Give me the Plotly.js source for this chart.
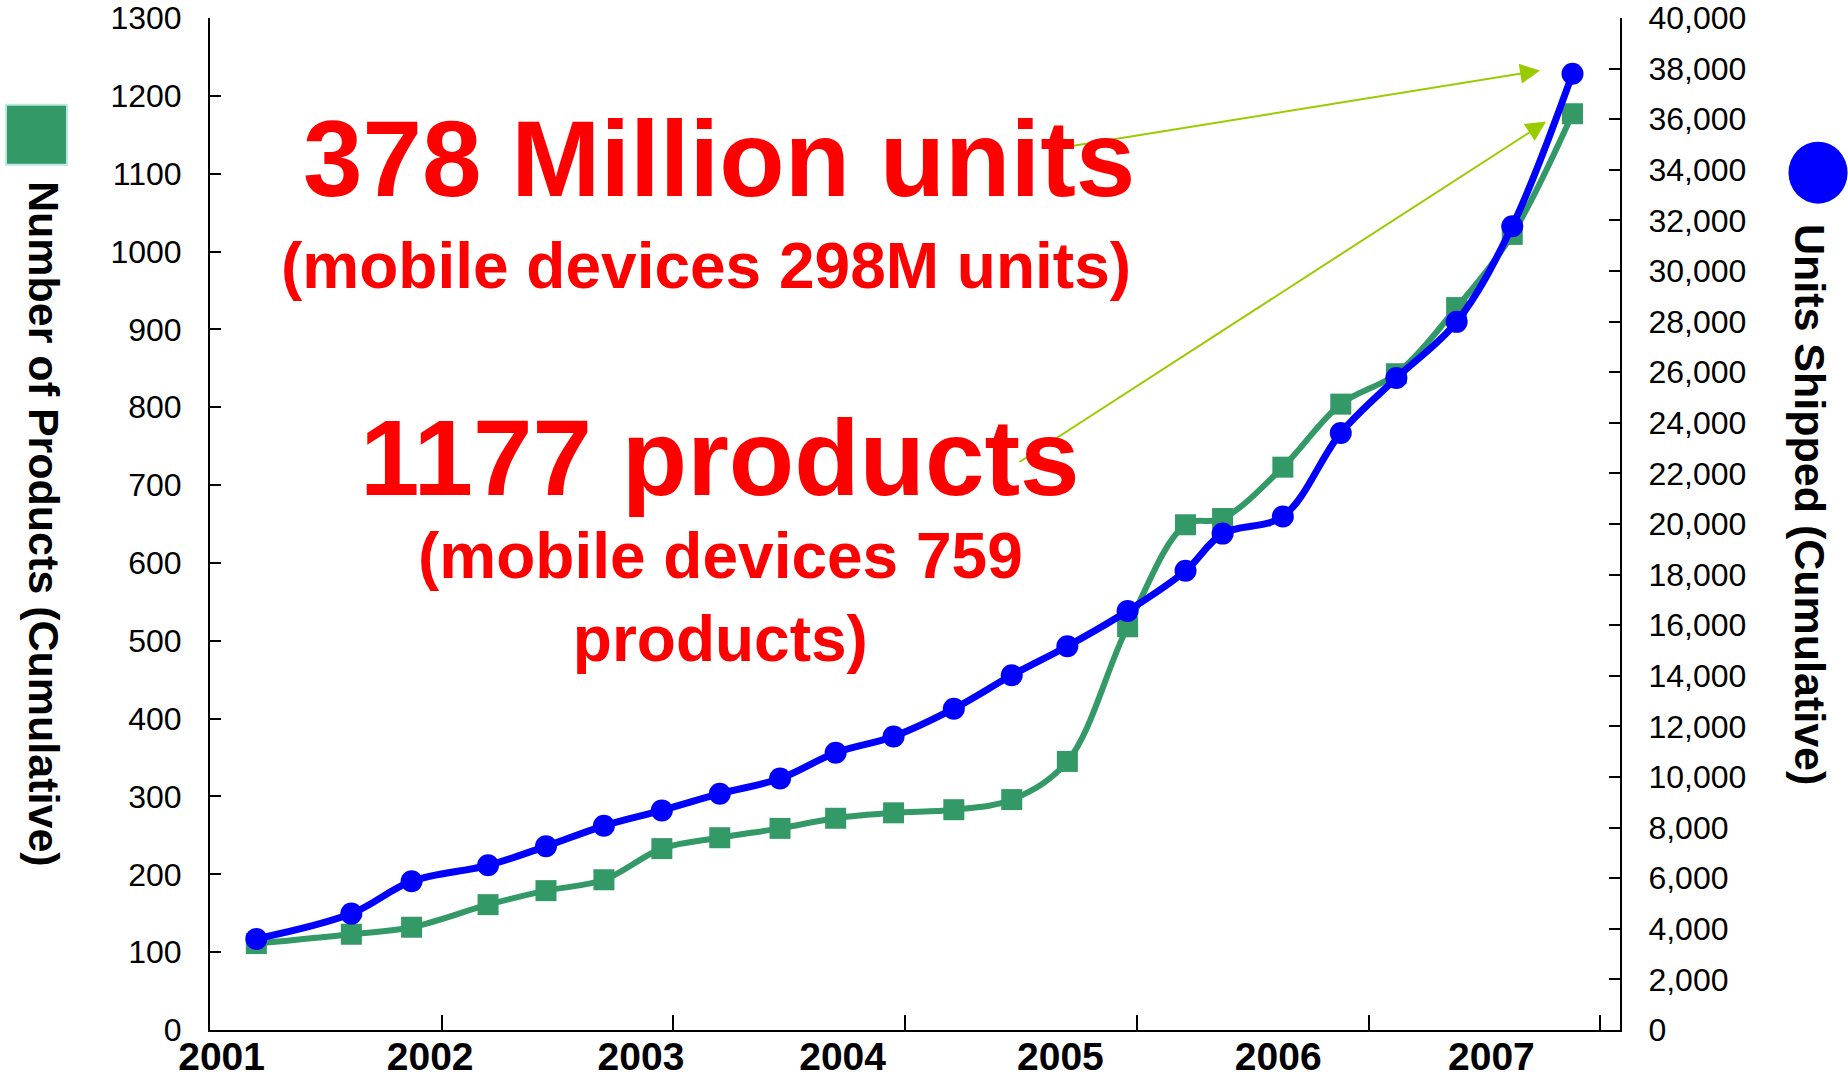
<!DOCTYPE html>
<html>
<head>
<meta charset="utf-8">
<script src="https://cdn.plot.ly/plotly-3.0.1.min.js"></script>
<style>
  html, body { margin: 0; padding: 0; background: #ffffff; }
  #chart { width: 1848px; height: 1078px; }
</style>
</head>
<body>
<div id="chart"></div>
<script>
// ---- data ----
const yearLabels = ['2001', '2002', '2003', '2004', '2005', '2006', '2007'];
const yearLabelPos = [2001.05, 2001.95, 2002.86, 2003.73, 2004.67, 2005.61, 2006.53];
const yearBoundaries = [2002, 2003, 2004, 2005, 2006, 2007];

const periods = [2001.20, 2001.61, 2001.87, 2002.20, 2002.45, 2002.70, 2002.95,
                 2003.20, 2003.46, 2003.70, 2003.95, 2004.21, 2004.46, 2004.70,
                 2004.96, 2005.21, 2005.37, 2005.63, 2005.88, 2006.12, 2006.38,
                 2006.62, 2006.88];

const unitsShipped = [3600, 4600, 5880, 6510, 7260, 8070, 8680, 9340, 9940, 10960,
                      11600, 12700, 14020, 15170, 16560, 18150, 19620, 20300, 23600,
                      25770, 27990, 31770, 37800];

const productCount = [111, 123, 132, 161, 179, 193, 233, 247, 259, 272, 279, 283,
                      296, 345, 518, 649, 657, 723, 804, 843, 928, 1022, 1177];

const leftTicks = [0, 100, 200, 300, 400, 500, 600, 700, 800, 900, 1000, 1100, 1200, 1300];

// ---- styling ----
const SANS = 'Liberation Sans, Arial, Helvetica, sans-serif';
const BLUE = '#0000FF';
const GREEN = '#339966';
const RED = '#FF0000';
const ARROW = '#99CC00';
const X_RANGE = [2001, 2007.085];

const traces = [
  {
    x: periods, y: unitsShipped, xaxis: 'x', yaxis: 'y2',
    type: 'scatter', mode: 'lines+markers', name: 'Units Shipped (Cumulative)',
    line: { color: BLUE, width: 7, shape: 'spline', smoothing: 1 },
    marker: { symbol: 'circle', size: 22, color: BLUE },
    hoverinfo: 'skip', showlegend: false
  },
  {
    x: periods, y: productCount, xaxis: 'x', yaxis: 'y',
    type: 'scatter', mode: 'lines+markers', name: 'Number of Products (Cumulative)',
    line: { color: GREEN, width: 6, shape: 'spline', smoothing: 1 },
    marker: { symbol: 'square', size: 21, color: GREEN },
    hoverinfo: 'skip', showlegend: false
  },
  {
    // invisible carrier so the label axis is drawn
    x: periods.slice(0, 1), y: productCount.slice(0, 1), xaxis: 'x2', yaxis: 'y',
    type: 'scatter', mode: 'markers', marker: { opacity: 0 },
    hoverinfo: 'skip', showlegend: false
  }
];

const tickFont = { family: SANS, size: 32, color: '#000000' };

const layout = {
  width: 1848, height: 1078,
  margin: { l: 210, r: 228, t: 18, b: 48, pad: 0 },
  paper_bgcolor: '#ffffff', plot_bgcolor: '#ffffff',
  showlegend: false,
  xaxis: {
    range: X_RANGE, tickmode: 'array', tickvals: yearBoundaries,
    ticks: 'inside', ticklen: 15, tickwidth: 2, tickcolor: '#000000',
    showticklabels: false, showline: true, linecolor: '#000000', linewidth: 2,
    showgrid: false, zeroline: false, fixedrange: true
  },
  xaxis2: {
    overlaying: 'x', anchor: 'y', side: 'bottom',
    range: X_RANGE, tickmode: 'array', tickvals: yearLabelPos, ticktext: yearLabels,
    ticks: '', showline: false, showgrid: false, zeroline: false,
    ticklabelstandoff: 0,
    tickfont: { family: SANS, size: 39, weight: 'bold', color: '#000000' },
    fixedrange: true
  },
  yaxis: {
    range: [0, 1300], tickmode: 'array', tickvals: leftTicks,
    ticks: 'inside', ticklen: 11, tickwidth: 2, tickcolor: '#000000',
    showline: true, linecolor: '#000000', linewidth: 2,
    showgrid: false, zeroline: false, tickfont: tickFont,
    ticklabelstandoff: 20, fixedrange: true
  },
  yaxis2: {
    overlaying: 'y', anchor: 'x', side: 'right',
    range: [0, 40000], tick0: 0, dtick: 2000, tickformat: ',d',
    ticks: 'inside', ticklen: 11, tickwidth: 2, tickcolor: '#000000',
    showline: true, linecolor: '#000000', linewidth: 2,
    showgrid: false, zeroline: false, tickfont: tickFont,
    ticklabelstandoff: 20, fixedrange: true
  },
  shapes: [
    { type: 'rect', xref: 'paper', yref: 'paper',
      x0: -0.1447, x1: -0.1014, y0: 0.855, y1: 0.9144,
      fillcolor: GREEN, line: { color: '#BFE6E6', width: 2 } },
    { type: 'circle', xref: 'paper', yref: 'paper',
      x0: 1.1195, x1: 1.1614, y0: 0.8165, y1: 0.8778,
      fillcolor: BLUE, line: { color: BLUE, width: 0 } }
  ],
  annotations: [
    // arrows (drawn first so the red text sits on top)
    { xref: 'x', yref: 'y', x: 2006.74, y: 1232.5, axref: 'x', ayref: 'y', ax: 2004.70, ay: 1134.7,
      text: '', showarrow: true, arrowhead: 2, arrowsize: 2, arrowwidth: 2, arrowcolor: ARROW, standoff: 0 },
    { xref: 'x', yref: 'y', x: 2006.766, y: 1166.9, axref: 'x', ayref: 'y', ax: 2004.487, ay: 728.4,
      text: '', showarrow: true, arrowhead: 2, arrowsize: 2, arrowwidth: 2, arrowcolor: ARROW, standoff: 0 },
    // red call-outs
    { xref: 'paper', yref: 'paper', x: 0.361, y: 0.861, xanchor: 'center', yanchor: 'middle',
      text: '378 Million units', showarrow: false,
      font: { family: SANS, size: 107, weight: 'bold', color: RED } },
    { xref: 'paper', yref: 'paper', x: 0.352, y: 0.755, xanchor: 'center', yanchor: 'middle',
      text: '(mobile devices 298M units)', showarrow: false,
      font: { family: SANS, size: 64, weight: 'bold', color: RED } },
    { xref: 'paper', yref: 'paper', x: 0.362, y: 0.565, xanchor: 'center', yanchor: 'middle',
      text: '1177 products', showarrow: false,
      font: { family: SANS, size: 107, weight: 'bold', color: RED } },
    { xref: 'paper', yref: 'paper', x: 0.362, y: 0.427, xanchor: 'center', yanchor: 'middle',
      text: '(mobile devices 759<br>products)', showarrow: false, align: 'center',
      font: { family: SANS, size: 64, weight: 'bold', color: RED } },
    // axis titles (rotated, reading top to bottom)
    { xref: 'paper', yref: 'paper', x: -0.1177, y: 0.5, xanchor: 'center', yanchor: 'middle',
      text: 'Number of Products (Cumulative)', textangle: 90, showarrow: false,
      font: { family: SANS, size: 43, weight: 'bold', color: '#000000' } },
    { xref: 'paper', yref: 'paper', x: 1.1348, y: 0.5198, xanchor: 'center', yanchor: 'middle',
      text: 'Units Shipped (Cumulative)', textangle: 90, showarrow: false,
      font: { family: SANS, size: 43, weight: 'bold', color: '#000000' } }
  ]
};

Plotly.newPlot('chart', traces, layout, { staticPlot: true, displayModeBar: false });
</script>
</body>
</html>
